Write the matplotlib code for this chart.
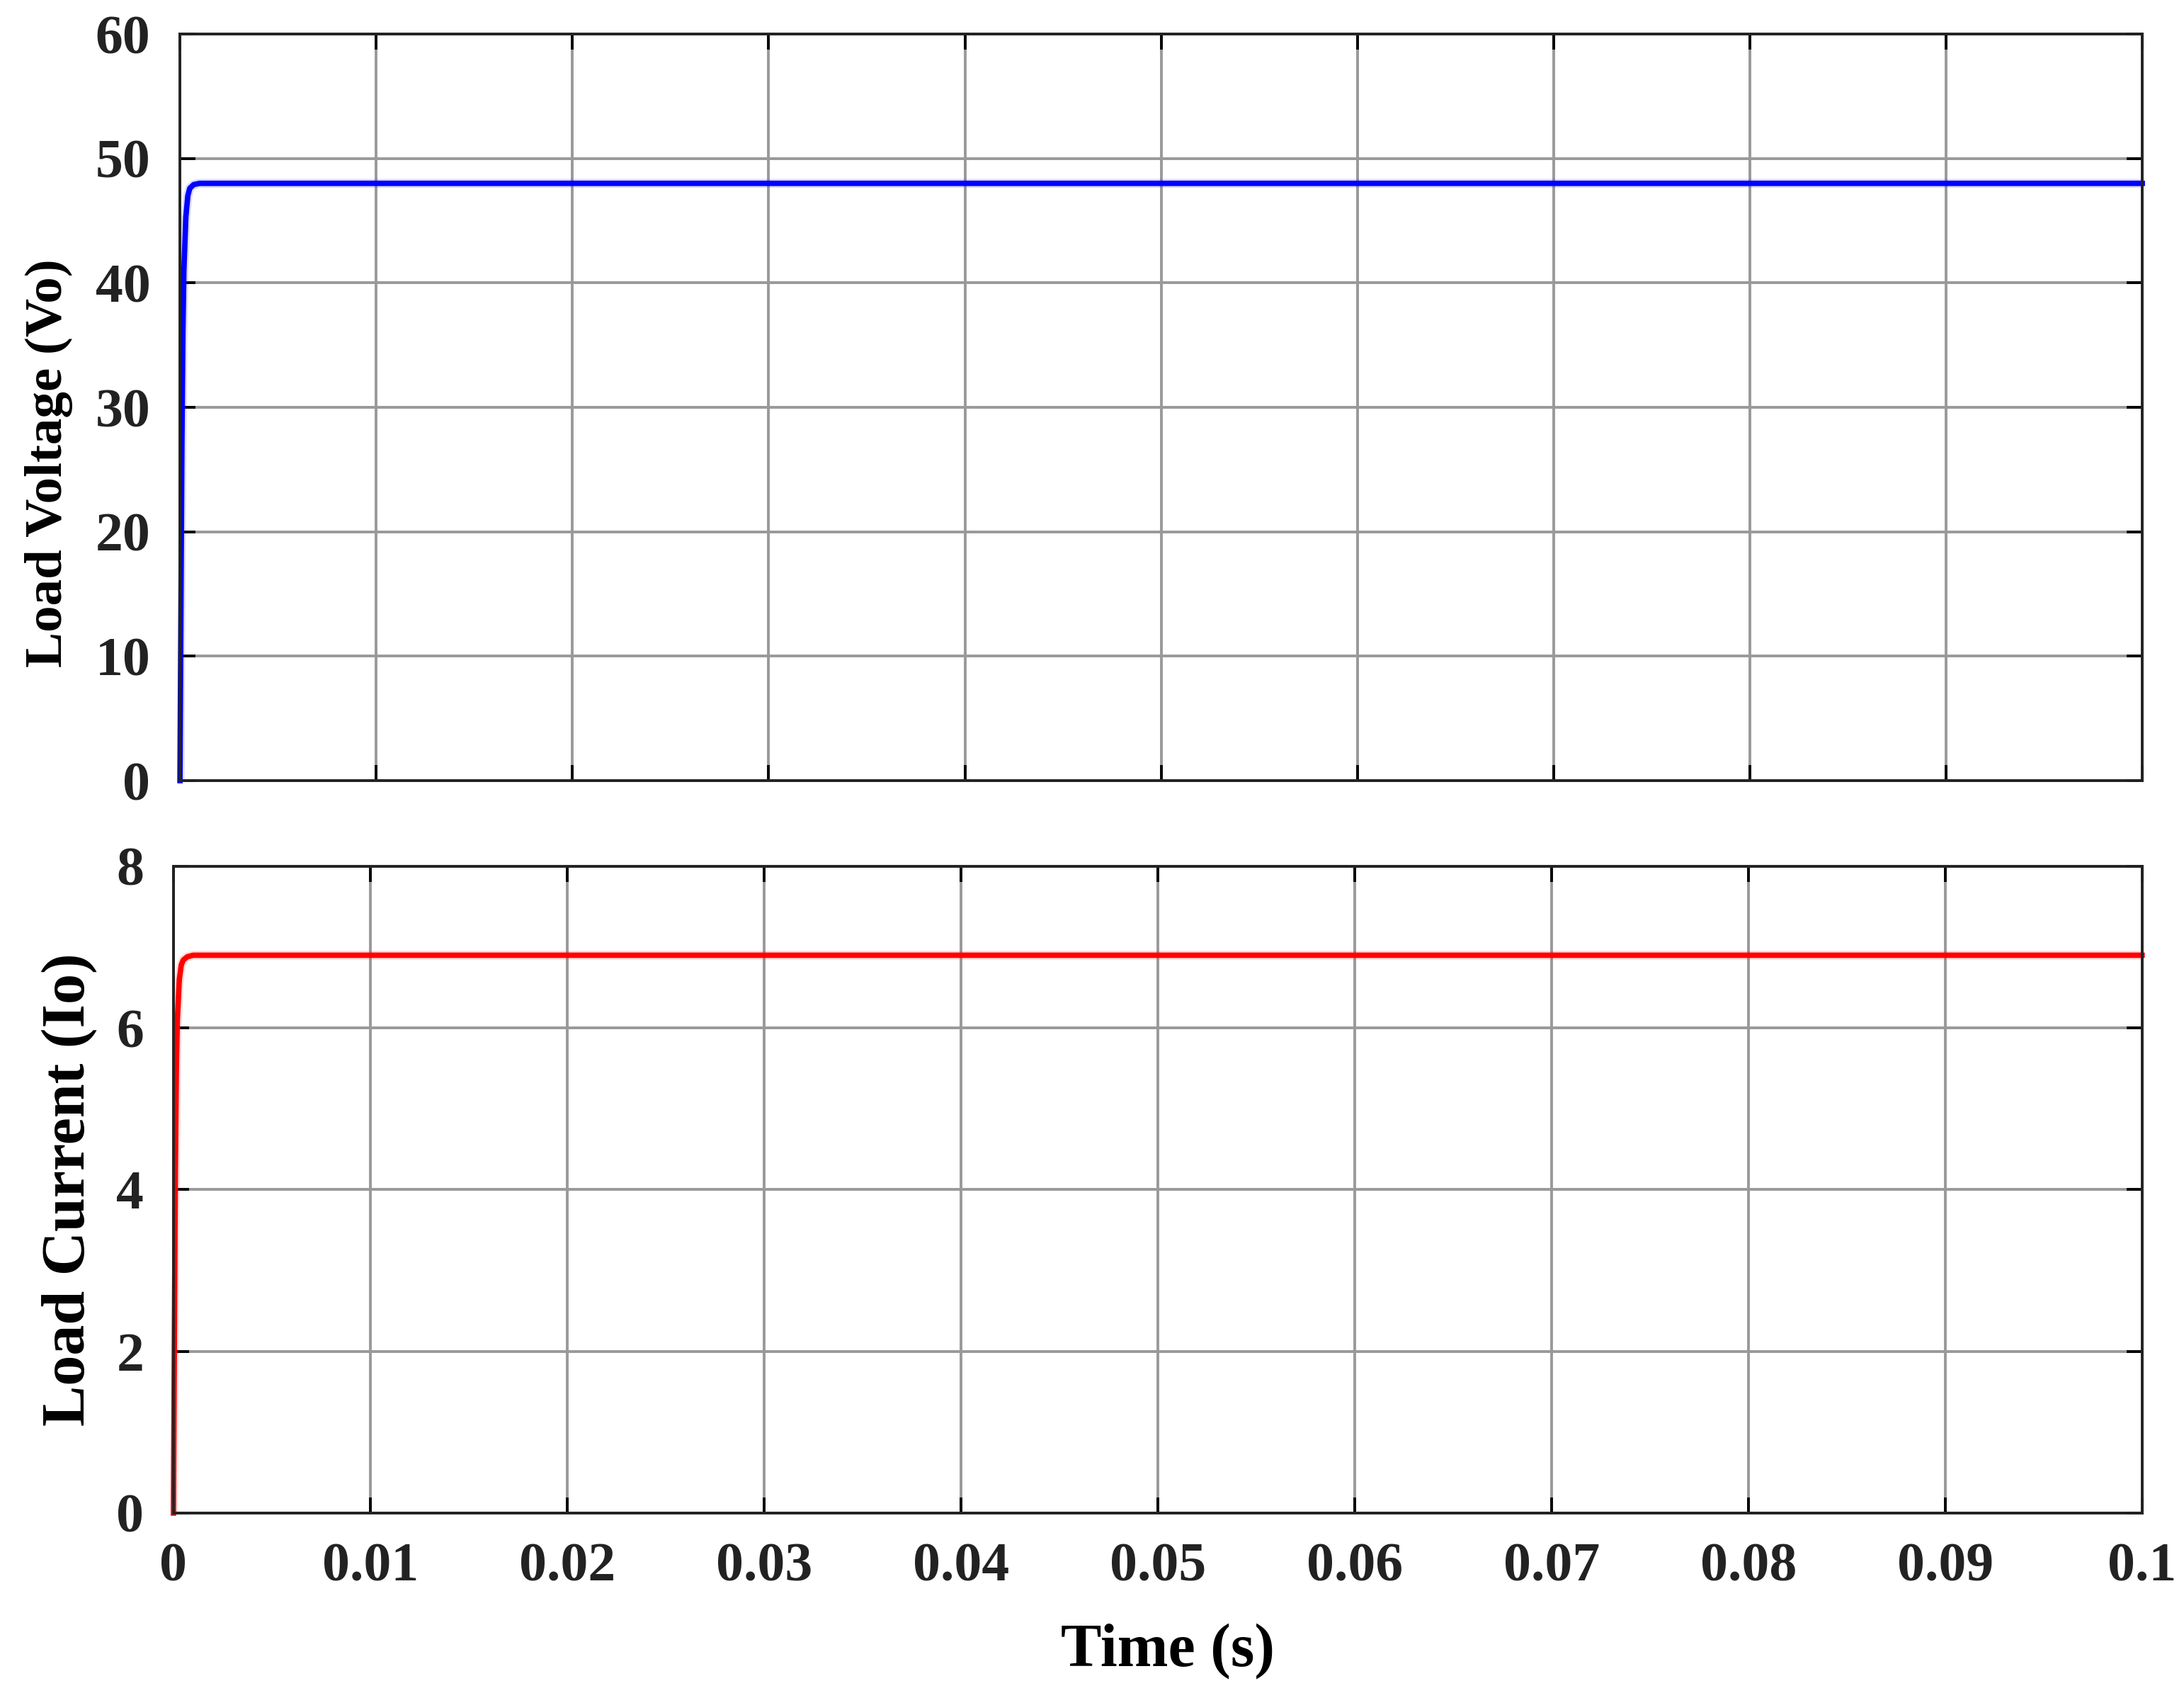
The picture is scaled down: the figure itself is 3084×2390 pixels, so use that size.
""" Load voltage / load current start-up plot """
import numpy as np
import matplotlib
import matplotlib.pyplot as plt

matplotlib.use('Agg')
plt.rcParams['font.family'] = ['Liberation Serif', 'DejaVu Serif']
plt.rcParams['font.weight'] = 'bold'

# values
t_vo = [0, 0.00005, 0.0001, 0.00015, 0.0002, 0.0003, 0.0004, 0.0005, 0.0007, 0.001, 0.1]
vo = [0, 14, 27, 36, 41, 45.3, 47.0, 47.6, 47.9, 48.0, 48.0]
t_io = [0, 0.00005, 0.0001, 0.00015, 0.0002, 0.0003, 0.0004, 0.0005, 0.0007, 0.001, 0.1]
io = [0, 2.2, 4.3, 5.5, 6.1, 6.6, 6.78, 6.84, 6.88, 6.9, 6.9]

x_ticks = [0, 0.01, 0.02, 0.03, 0.04, 0.05, 0.06, 0.07, 0.08, 0.09, 0.1]
x_labels = ['0', '0.01', '0.02', '0.03', '0.04', '0.05', '0.06', '0.07', '0.08', '0.09', '0.1']
vo_ticks = [0, 10, 20, 30, 40, 50, 60]
io_ticks = [0, 2, 4, 6, 8]

fig = plt.figure(figsize=(30.84, 23.9), dpi=100)
ax1 = fig.add_axes([0.0824, 0.5389, 0.8985, 0.441])
ax2 = fig.add_axes([0.0794, 0.1063, 0.9014, 0.382])


def style(ax, yticks):
    ax.set_xlim(0, 0.1)
    ax.set_ylim(yticks[0], yticks[-1])
    ax.set_xticks(x_ticks)
    ax.set_yticks(yticks)
    ax.grid(True, color='#999999', linewidth=2.8)
    ax.set_axisbelow(False)
    ax.tick_params(direction='in', length=16, width=2.8, top=True, right=True,
                   labelsize=56, colors='#000000', labelcolor='#222222', pad=30)
    for sp in ax.spines.values():
        sp.set_linewidth(2.8)
        sp.set_color('#222222')
        sp.set_zorder(5)


style(ax1, vo_ticks)
style(ax2, io_ticks)

# faint switching ripple band behind the traces
ax1.plot(t_vo, vo, color='#0000ff', linewidth=9, alpha=0.15, zorder=3)
ax2.plot(t_io, io, color='#ff0000', linewidth=9, alpha=0.15, zorder=3)
ax1.plot(t_vo, vo, color='#0000ff', linewidth=5.5, zorder=3, clip_on=False)
ax2.plot(t_io, io, color='#ff0000', linewidth=5.5, zorder=3, clip_on=False)

ax1.set_xticklabels([])
ax2.set_xticklabels(x_labels)

ax1.set_ylabel('Load Voltage (Vo)', fontsize=54, fontweight='bold', va='center')
ax1.yaxis.set_label_coords(-0.0668, 0.425)
ax2.set_ylabel('Load Current (Io)', fontsize=62, fontweight='bold', va='center')
ax2.yaxis.set_label_coords(-0.0529, 0.5)
ax2.set_xlabel('Time (s)', fontsize=62, fontweight='bold', va='center')
ax2.xaxis.set_label_coords(0.505, -0.2136)

fig.savefig('out.png', dpi=100)
plt.close()
